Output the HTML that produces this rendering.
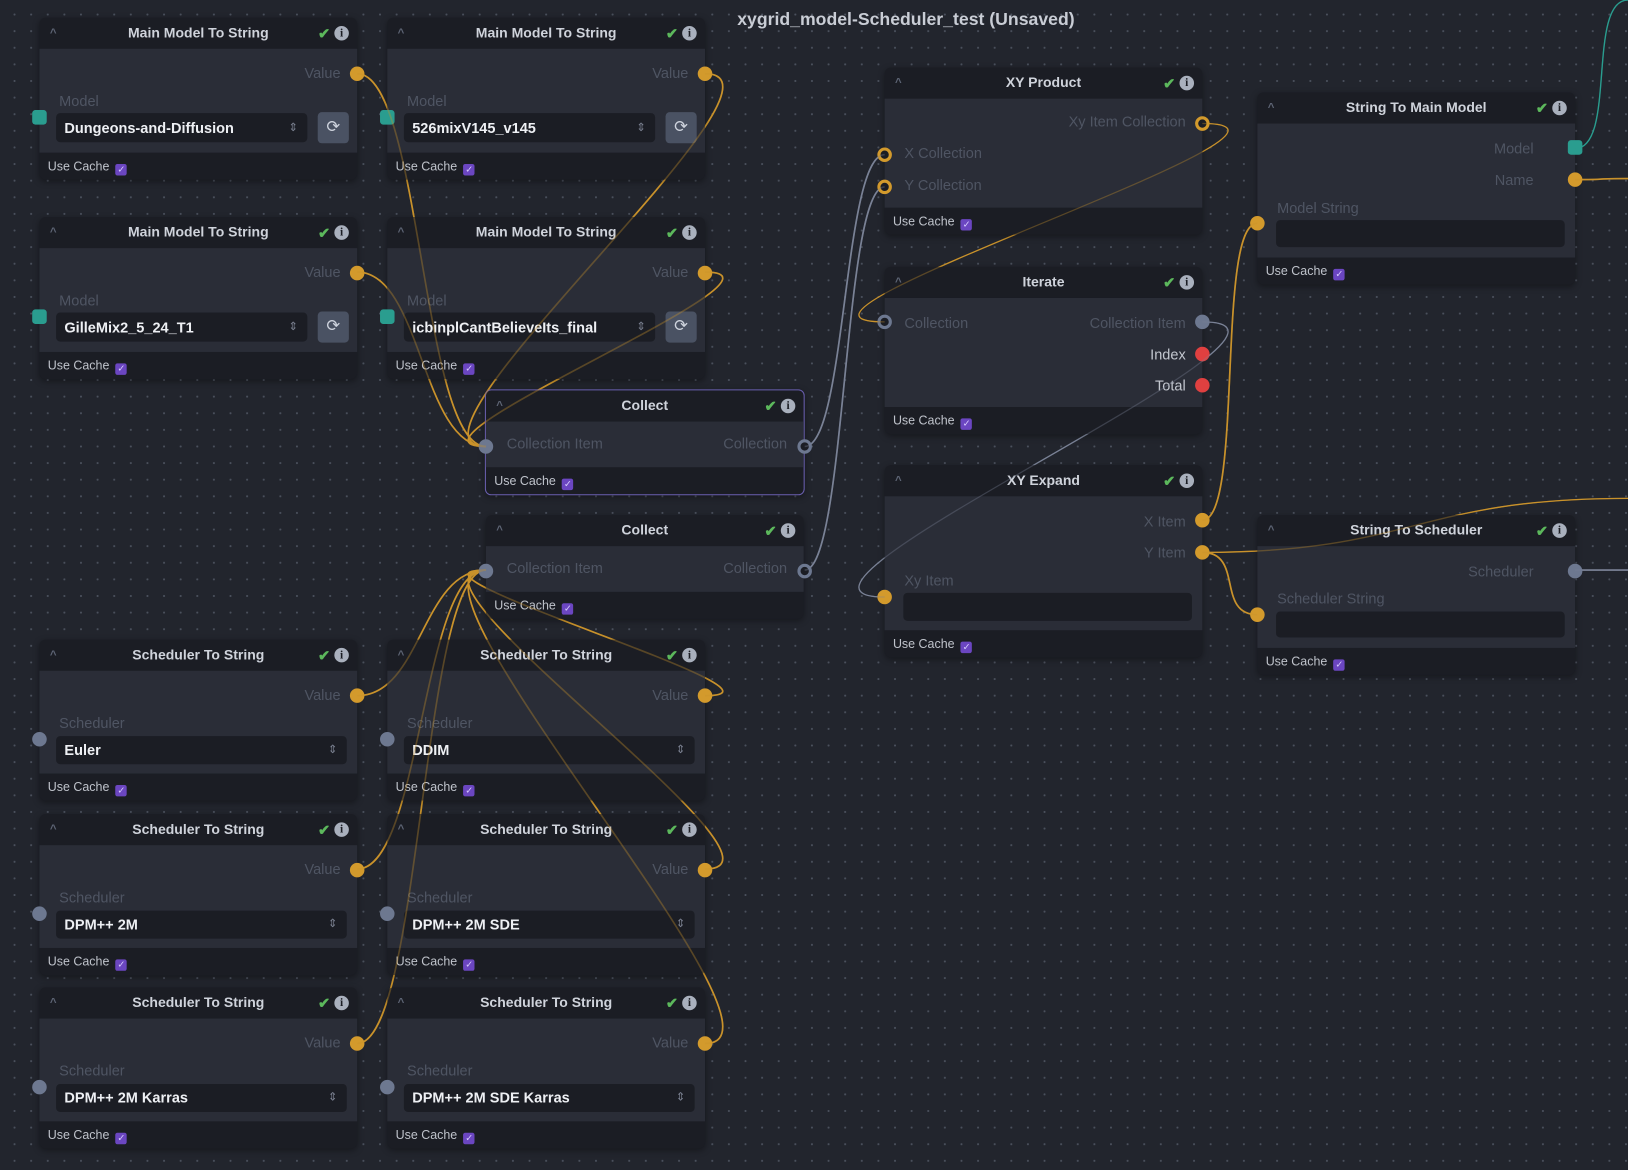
<!DOCTYPE html>
<html><head><meta charset="utf-8">
<style>
html,body{margin:0;padding:0;width:1628px;height:1170px;overflow:hidden;background:#22252d;}
#wrap{position:absolute;left:0;top:0;width:1568px;height:1127px;transform:scale(1.0383);transform-origin:0 0;
background-color:#22252d;background-image:radial-gradient(circle,#4a505c 0.8px,transparent 1.2px);background-size:16px 16px;background-position:6px 6px;
font-family:"Liberation Sans",sans-serif;}
.n{position:absolute;width:306px;background:#1b1d24;border-radius:6px;box-shadow:0 2px 6px rgba(0,0,0,.35);}
.h{height:30px;position:relative;color:#cfd3db;font-size:13.5px;font-weight:bold;text-align:center;line-height:30px;}
.h .c{position:absolute;left:10px;top:0;color:#5e6575;font-size:11px;}
.h .k{position:absolute;right:26px;top:0;color:#5cb85c;font-size:14px;}
.h .i{position:absolute;right:8px;top:8px;width:14px;height:14px;border-radius:50%;background:#a9b0bd;color:#1b1d24;font-size:11px;line-height:14px;text-align:center;font-family:"Liberation Serif",serif;}
.b{background:#2a2d37;position:relative;}
.f{height:26px;position:relative;color:#bfc3cb;font-size:12px;line-height:26px;padding-left:8px;}
.f span{display:inline-block;width:11px;height:11px;background:#6b46c1;border-radius:2px;vertical-align:-2px;margin-left:6px;color:#d8ccff;font-size:9px;line-height:11px;text-align:center;}
.l{position:absolute;color:#4f5563;font-size:14px;}
.lb{position:absolute;color:#c4c8d0;font-size:14px;}
.s{position:absolute;background:#1b1d24;border-radius:4px;color:#eef0f4;font-size:14px;font-weight:bold;line-height:28px;padding-left:8px;box-sizing:border-box;}
.s:after{content:"⇕";position:absolute;right:9px;top:0;color:#7a8090;font-size:11px;font-weight:normal;}
.s.e:after{content:"";}
.r{position:absolute;width:30px;height:30px;background:#4a5263;border-radius:4px;color:#cfd4de;text-align:center;line-height:30px;font-size:16px;}
.hd{position:absolute;width:14px;height:14px;border-radius:50%;box-sizing:border-box;}
.o{background:#d39a2c;}
.ro{border:3px solid #d39a2c;background:#1b1d24;}
.g{background:#6d7890;}
.rg{border:3px solid #6d7890;background:#1b1d24;}
.red{background:#e04040;}
.t{background:#2a9d8f;border-radius:3px;}
svg{position:absolute;left:0;top:0;}
</style></head><body><div id="wrap">
<svg id="e" width="1568" height="1127" style="z-index:0"></svg>
<div id="nodes" style="position:absolute;left:0;top:0;z-index:1"></div>
<svg id="e2" width="1568" height="1127" style="z-index:2;pointer-events:none;opacity:.35"></svg>
<div style="position:absolute;left:710px;top:9px;color:#c9cdd5;font-size:17px;font-weight:bold;z-index:3">xygrid_model-Scheduler_test (Unsaved)</div>
</div>
<script>
var N=document.getElementById('nodes'),H='';
function node(x,y,title,bh,inner,extra){
 H+='<div class="n" style="left:'+x+'px;top:'+y+'px;'+(extra||'')+'"><div class="h"><span class="c">^</span>'+title+'<span class="k">✔</span><span class="i">i</span></div><div class="b" style="height:'+bh+'px">'+inner+'</div><div class="f">Use Cache<span>✓</span></div></div>';
}
function hd(cls,x,y){return '<div class="hd '+cls+'" style="left:'+(x-7)+'px;top:'+(y-7)+'px"></div>';}
function L(t,x,y,r,cls){return '<div class="'+(cls||'l')+'" style="'+(r?'right:'+r+'px':'left:'+x+'px')+';top:'+y+'px">'+t+'</div>';}
function mm(x,y,val){
 var i=L('Value',0,15,16)+hd('o',306,24)+L('Model',19,42)+'<div class="s" style="left:16px;top:62px;width:242px;height:28px">'+val+'</div><div class="r" style="left:268px;top:61px">⟳</div>'+'<div class="hd t" style="left:-7px;top:59px"></div>';
 node(x,y,'Main Model To String',100,i);
}
mm(38,17,'Dungeons-and-Diffusion');mm(373,17,'526mixV145_v145');
mm(38,209,'GilleMix2_5_24_T1');mm(373,209,'icbinplCantBelieveIts_final');
function sc(x,y,val){
 var i=L('Value',0,15,16)+hd('o',306,24)+L('Scheduler',19,42)+'<div class="s" style="left:16px;top:63px;width:280px;height:27px;line-height:27px">'+val+'</div>'+hd('g',0,66);
 node(x,y,'Scheduler To String',99,i);
}
sc(38,616,'Euler');sc(373,616,'DDIM');sc(38,784,'DPM++ 2M');sc(373,784,'DPM++ 2M SDE');sc(38,951,'DPM++ 2M Karras');sc(373,951,'DPM++ 2M SDE Karras');
function col(y,ex){node(468,y,'Collect',44,L('Collection Item',20,13)+L('Collection',0,13,16)+hd('g',0,24)+hd('rg',307,24),ex);}
col(376,'border:1px solid #6a5fb0;margin:-1px;');col(496);
node(852,65,'XY Product',105,L('Xy Item Collection',0,14,16)+hd('ro',306,24)+L('X Collection',19,44)+hd('ro',0,54)+L('Y Collection',19,75)+hd('ro',0,85));
node(852,257,'Iterate',105,L('Collection',19,16)+hd('rg',0,23)+L('Collection Item',0,16,16)+hd('g',306,23)+L('Index',0,46,16,'lb')+hd('red',306,54)+L('Total',0,76,16,'lb')+hd('red',306,84));
node(852,448,'XY Expand',129,L('X Item',0,16,16)+hd('o',306,23)+L('Y Item',0,46,16)+hd('o',306,54)+L('Xy Item',19,73)+'<div class="s e" style="left:18px;top:93px;width:278px;height:27px"></div>'+hd('o',0,97));
node(1211,89,'String To Main Model',129,L('Model',0,16,40)+'<div class="hd t" style="left:299px;top:16px"></div>'+L('Name',0,46,40)+hd('o',306,54)+L('Model String',19,73)+'<div class="s e" style="left:18px;top:93px;width:278px;height:26px"></div>'+hd('o',0,96));
node(1211,496,'String To Scheduler',98,L('Scheduler',0,16,40)+hd('g',306,24)+L('Scheduler String',19,42)+'<div class="s e" style="left:18px;top:63px;width:278px;height:25px"></div>'+hd('o',0,66));
N.innerHTML=H;
function bez(x1,y1,x2,y2,c,w){var d=Math.max(40,Math.abs(x2-x1)/2);return '<path d="M'+x1+' '+y1+' C'+(x1+d)+' '+y1+','+(x2-d)+' '+y2+','+x2+' '+y2+'" stroke="'+c+'" stroke-width="'+(w||1.6)+'" fill="none"/>';}
var O='#c9922b',G='#7a8296',T='#2a9d8f',P='';
[[344,71],[679,71],[344,262],[679,262]].forEach(function(p){P+=bez(p[0],p[1],468,430,O);});
[670,837,1005].forEach(function(y){P+=bez(344,y,468,549,O);P+=bez(679,y,468,549,O);});
P+=bez(775,430,852,149,G);P+=bez(775,549,852,180,G);
P+=bez(1158,119,852,310,O,1.2);P+=bez(1158,310,852,575,G,1.2);
P+=bez(1158,501,1211,215,O);P+=bez(1158,532,1211,592,O);P+=bez(1158,532,1568,480,O,1.3);
P+=bez(1517,173,1568,172,O);P+=bez(1517,549,1568,549,G);P+=bez(1517,143,1568,0,T,1.3);
document.getElementById('e').innerHTML=P;document.getElementById('e2').innerHTML=P;
</script>
</body></html>
